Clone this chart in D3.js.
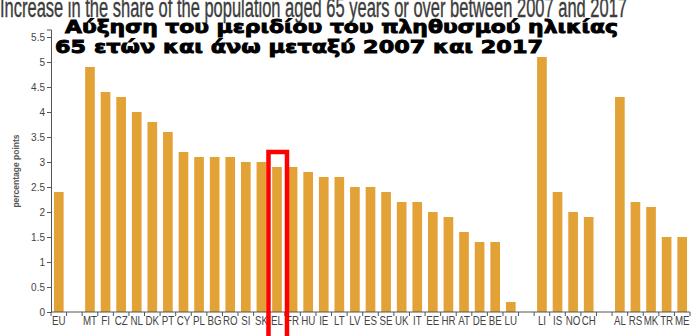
<!DOCTYPE html>
<html>
<head>
<meta charset="utf-8">
<script src="https://cdn.jsdelivr.net/npm/d3@7"></script>
<style>
  body { margin: 0; background: #fff; }
  svg { display: block; }
  .axis text { fill: #444; font-family: "Liberation Sans Narrow", "Liberation Sans", sans-serif; }
  .axis path, .axis line { stroke: #555; }
</style>
</head>
<body>
<svg id="chart" width="700" height="336"></svg>
<script>
// countries in display order, blank entries = gap slots
var countries = ["EU", "", "MT", "FI", "CZ", "NL", "DK", "PT", "CY", "PL", "BG", "RO", "SI", "SK", "EL", "FR",
  "HU", "IE", "LT", "LV", "ES", "SE", "UK", "IT", "EE", "HR", "AT", "DE", "BE", "LU", " ", "LI", "IS", "NO", "CH",
  "  ", "AL", "RS", "MK", "TR", "ME"];
var values = [2.4, null, 4.9, 4.4, 4.3, 4.0, 3.8, 3.6, 3.2, 3.1, 3.1, 3.1, 3.0, 3.0, 2.9, 2.9,
  2.8, 2.7, 2.7, 2.5, 2.5, 2.4, 2.2, 2.2, 2.0, 1.9, 1.6, 1.4, 1.4, 0.2, null, 5.1, 2.4, 2.0, 1.9,
  null, 4.3, 2.2, 2.1, 1.5, 1.5];
var yTicks = [0, 0.5, 1, 1.5, 2, 2.5, 3, 3.5, 4, 4.5, 5, 5.5];
var highlight = "EL";

var titleEn = "Increase in the share of the population aged 65 years or over between 2007 and 2017";
var titleGr1 = "Αύξηση του μεριδίου του πληθυσμού ηλικίας";
var titleGr2 = "65 ετών και άνω μεταξύ 2007 και 2017";

var svg = d3.select("#chart");

var data = countries.map((c, i) => ({ name: c, value: values[i] }));

var x = d3.scaleBand()
    .domain(countries)
    .range([51, 690])
    .paddingInner(0.38)
    .paddingOuter(0.19);

var y = d3.scaleLinear()
    .domain([0, 5.65])
    .range([312, 29.5]);

// bars
svg.append("g")
  .selectAll("rect")
  .data(data.filter(d => d.value != null))
  .join("rect")
    .attr("x", d => x(d.name))
    .attr("y", d => y(d.value))
    .attr("width", x.bandwidth())
    .attr("height", d => y(0) - y(d.value))
    .attr("fill", "#e2a236");

// y axis
var gY = svg.append("g").attr("class", "axis")
    .attr("transform", "translate(51,0)")
    .call(d3.axisLeft(y).tickValues(yTicks).tickSize(4).tickPadding(2).tickFormat(d3.format("")));
gY.selectAll("text").style("font-size", "10px");

// x axis: ticks on band boundaries
var gX = svg.append("g").attr("class", "axis")
    .attr("transform", "translate(0,312)");
gX.append("line").attr("x1", 51).attr("x2", 690).attr("stroke", "#555");
var step = x.step();
gX.selectAll(".tk")
  .data(d3.range(countries.length + 1))
  .join("line")
    .attr("class", "tk")
    .attr("x1", i => 51 + i * step)
    .attr("x2", i => 51 + i * step)
    .attr("y1", 0).attr("y2", 4);
gX.selectAll(".lbl")
  .data(countries.filter(c => c.trim() !== ""))
  .join("text")
    .attr("class", "lbl")
    .attr("transform", c => "translate(" + (x(c) + x.bandwidth() / 2) + ",12.5) scale(0.78,1)")
    .attr("text-anchor", "middle")
    .style("font-size", "12.5px")
    .text(c => c);

// y axis label
svg.append("text")
    .attr("transform", "translate(19,171) rotate(-90)")
    .attr("text-anchor", "middle")
    .style("font-family", "Liberation Sans, Arial, sans-serif")
    .style("font-size", "8.5px")
    .style("font-weight", "bold")
    .attr("fill", "#555")
    .text("percentage points");

// highlight box
var hx = x(highlight) + x.bandwidth() / 2;
svg.append("rect")
    .attr("x", hx - 8.5)
    .attr("y", y(3.2))
    .attr("width", 18.5)
    .attr("height", 340 - y(3.2))
    .attr("fill", "none")
    .attr("stroke", "#f00")
    .attr("stroke-width", 4.5);

// titles
svg.append("text")
    .attr("x", 0).attr("y", 16.5)
    .attr("textLength", 627)
    .attr("lengthAdjust", "spacingAndGlyphs")
    .style("font-family", "Liberation Sans Narrow, Liberation Sans, sans-serif")
    .style("font-size", "27px")
    .attr("fill", "#3c3c3c")
    .attr("stroke", "#3c3c3c")
    .attr("stroke-width", 0.4)
    .text(titleEn);

svg.append("text")
    .attr("x", 65).attr("y", 32.5)
    .attr("textLength", 553)
    .attr("lengthAdjust", "spacingAndGlyphs")
    .style("font-family", "DejaVu Sans, sans-serif")
    .style("font-size", "17.5px")
    .style("font-weight", "bold")
    .attr("fill", "#000")
    .attr("stroke", "#000")
    .attr("stroke-width", 0.9)
    .text(titleGr1);

svg.append("text")
    .attr("x", 55).attr("y", 52.5)
    .attr("textLength", 488)
    .attr("lengthAdjust", "spacingAndGlyphs")
    .style("font-family", "DejaVu Sans, sans-serif")
    .style("font-size", "18px")
    .style("font-weight", "bold")
    .attr("fill", "#000")
    .attr("stroke", "#000")
    .attr("stroke-width", 0.9)
    .text(titleGr2);
</script>
</body>
</html>
